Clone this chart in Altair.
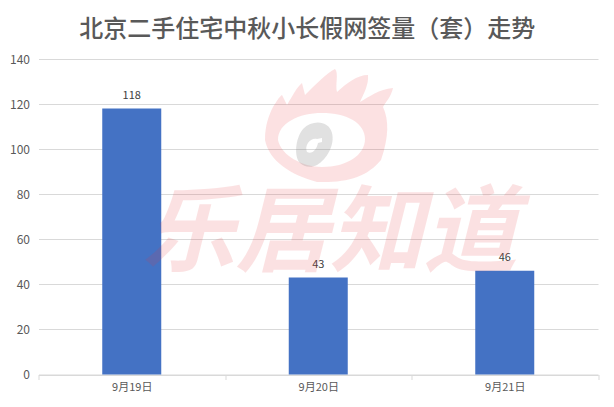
import altair as alt
import pandas as pd

categories = ["9月19日", "9月20日", "9月21日"]
values = [118, 43, 46]
title = "北京二手住宅中秋小长假网签量（套）走势"
y_ticks = [0, 20, 40, 60, 80, 100, 120, 140]
FONT = "Noto Sans CJK SC"

df = pd.DataFrame({"day": categories, "n": values})
one = pd.DataFrame({"a": [0]})

# logo outline in units of 100 px around its centre; inner eye wound the other way to cut a hole
LOGO_RING = ("M-0.62,0.15 C-0.62,0.00 -0.58,-0.10 -0.54,-0.18 C-0.50,-0.24 -0.48,-0.28 -0.45,-0.30 "
             "L-0.40,-0.20 C-0.34,-0.30 -0.30,-0.38 -0.25,-0.42 L-0.22,-0.30 "
             "C-0.12,-0.40 0.00,-0.52 0.08,-0.56 C0.12,-0.52 0.08,-0.40 0.10,-0.33 "
             "C0.20,-0.42 0.30,-0.50 0.41,-0.50 C0.42,-0.40 0.36,-0.30 0.33,-0.23 "
             "C0.42,-0.28 0.52,-0.36 0.66,-0.37 C0.64,-0.28 0.58,-0.22 0.56,-0.18 "
             "C0.62,-0.05 0.62,0.12 0.54,0.35 C0.40,0.52 0.20,0.58 -0.10,0.57 "
             "C-0.36,0.50 -0.58,0.36 -0.62,0.15 Z "
             "M-0.49,0.15 C-0.46,0.30 -0.25,0.42 -0.05,0.42 C0.20,0.42 0.38,0.30 0.38,0.14 "
             "C0.38,-0.02 0.20,-0.12 -0.05,-0.12 C-0.28,-0.12 -0.49,-0.02 -0.49,0.15 Z")
PUPIL = ("M-0.27,0.38 C-0.33,0.32 -0.32,0.14 -0.24,0.04 C-0.14,-0.06 0.02,-0.04 0.05,0.08 "
         "C0.08,0.20 0.00,0.34 -0.10,0.40 C-0.16,0.43 -0.23,0.42 -0.27,0.38 Z "
         "M-0.20,0.27 C-0.15,0.30 -0.10,0.24 -0.09,0.18 L-0.05,0.17 L-0.05,0.13 L-0.10,0.14 "
         "C-0.16,0.12 -0.23,0.20 -0.20,0.27 Z")

base = alt.Chart(df)

bars = base.mark_bar(color="#4472C4", size=59).encode(
    x=alt.X("day:N", sort=categories, title=None,
            scale=alt.Scale(paddingInner=0, paddingOuter=0),
            axis=alt.Axis(labelAngle=0, labelFont=FONT, labelFontSize=11, labelColor="#595959",
                          labelPadding=2, domainColor="#D9D9D9", tickColor="#D9D9D9", tickSize=5,
                          tickBand="extent", grid=False)),
    y=alt.Y("n:Q", title=None, scale=alt.Scale(domain=[0, 140], nice=False),
            axis=alt.Axis(values=y_ticks, labelFont=FONT, labelFontSize=12, labelColor="#595959",
                          labelPadding=9, domain=False, ticks=False, gridColor="#D9D9D9", gridWidth=1)),
)
labels = base.mark_text(font=FONT, fontSize=11, color="#404040", dy=-13).encode(
    x=alt.X("day:N", sort=categories), y="n:Q", text="n:Q")

logo = alt.Chart(one).mark_point(shape=LOGO_RING, size=40000, filled=True, color="#E8363A",
                                 opacity=0.15, strokeWidth=0).encode(
    x=alt.value(288.5), y=alt.value(66))
pupil = alt.Chart(one).mark_point(shape=PUPIL, size=40000, filled=True, color="#808080",
                                  opacity=0.24, strokeWidth=0).encode(
    x=alt.value(288.5), y=alt.value(66))
water_text = alt.Chart(one).mark_text(text="乐居知道", font=FONT, fontSize=94, fontWeight="bold",
                                      fontStyle="italic", color="#E8363A", opacity=0.14,
                                      align="center", baseline="middle").encode(
    x=alt.value(291), y=alt.value(177))

chart = alt.layer(bars, labels, logo, pupil, water_text).properties(
    width=559.5, height=315.5,
    autosize=alt.AutoSizeParams(type="none"),
    padding={"left": 30.5, "top": 51, "right": 8, "bottom": 25},
    title=alt.TitleParams(title, font=FONT, fontSize=24, fontWeight=500, color="#595959",
                          anchor="middle", dx=-11, offset=11),
).configure_view(stroke=None)

chart.save("out.html", embed_options={"renderer": "svg", "actions": False})
